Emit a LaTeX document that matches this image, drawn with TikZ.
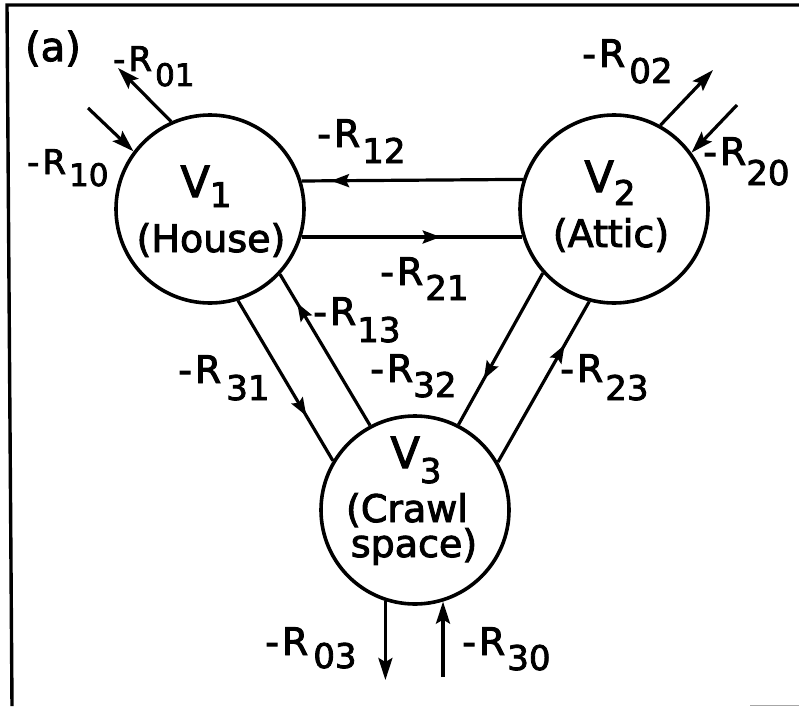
\documentclass[tikz,border=0pt]{standalone}
\usepackage{fontspec}
\setmainfont{DejaVu Sans}[FakeBold=2.5]
\usetikzlibrary{arrows.meta,decorations.markings}
\newcommand\mysubfont{\fontsize{34}{36}\selectfont}
\newcommand\mysmallsubfont{\fontsize{31}{33}\selectfont}
\newcommand\rlab[3]{-\kern3pt R\kern#1pt\raisebox{-#2pt}{\mysubfont #3}}
\newcommand\rlabsmall[3]{-\kern3pt R\kern#1pt\raisebox{-#2pt}{\mysmallsubfont #3}}
\begin{document}
\begin{tikzpicture}[x=1pt,y=-1pt,
  circ/.style={circle, draw, line width=3.6pt, minimum size=188pt, inner sep=0pt},
  conn/.style={line width=3.2pt},
  tip/.style={-{Stealth[length=22pt,width=14pt,inset=4pt]}},
  midarrow/.style={postaction={decorate}, decoration={markings,
      mark=at position #1 with {\arrow{Stealth[length=18pt,width=13pt,inset=3pt]}}}},
  lab/.style={anchor=base west, inner sep=0pt, font=\fontsize{#1}{#1}\selectfont},
  lab/.default=38,
  ctext/.style={anchor=base, inner sep=0pt, font=\fontsize{#1}{#1}\selectfont},
  ctext/.default=38]
\useasboundingbox (0,0) rectangle (799,706);
% frame
\draw[line width=3.4pt] (799,5) -- (7,5) -- (12,706);
\draw[line width=1pt, black!35] (750,705) -- (799,705);
\node[ctext=40] (tag) at (53,61) {(a)};
% volumes
\node[circ] (v1) at (210,209) {};
\node[circ] (v2) at (614,209) {};
\node[circ] (v3) at (415,510) {};
\node[ctext=43] (v1a) at (206,197) {V\raisebox{-10pt}{\mysubfont 1}};
\node[ctext] (v1b) at (211,252) {(House)};
\node[ctext=43] (v2a) at (610,192) {V\raisebox{-13pt}{\mysubfont 2}};
\node[ctext] (v2b) at (611,247) {(Attic)};
\node[ctext=43] (v3a) at (416,468) {V\raisebox{-15pt}{\mysubfont 3}};
\node[ctext] (v3b) at (407,522) {(Crawl};
\node[ctext] (v3c) at (414,557) {space)};
% exchanges between volumes
\draw[conn, midarrow=0.867] (v2.162.7) -- (v1.17.3);
\draw[conn, midarrow=0.63] (v1.-17.3) -- (v2.197.3);
\draw[conn, midarrow=0.72] (v1.-73.8) -- (v3.149.7);
\draw[conn, midarrow=0.81] (v3.118.5) -- (v1.-43.3);
\draw[conn, midarrow=0.70] (v2.222) -- (v3.63.4);
\draw[conn, midarrow=0.73] (v3.30.4) -- (v2.255);
% exchanges with outside
\coordinate (c01) at (118,68);
\coordinate (c10) at (88,108);
\coordinate (c02) at (713,70);
\coordinate (c20) at (737,105);
\coordinate (c03) at (387,680);
\coordinate (c30) at (442,677);
\draw[conn, tip] (v1.114) -- (c01);
\draw[conn, tip] (c10) -- (v1.143.3);
\draw[conn, tip] (v2.61.5) -- (c02);
\draw[conn, tip] (c20) -- (v2.36.4);
\draw[conn, tip] (v3.252.4) -- (v3.252.4 |- c03);
\draw[conn, tip] (c30 -| v3.287) -- (v3.287);
% labels
\node[lab=34] (l01) at (113,71) {\rlabsmall{3}{15}{01}};
\node[lab=34] (l10) at (27,174) {\rlabsmall{3}{12}{10}};
\node[lab] (l12) at (317,147) {\rlab{2}{16}{12}};
\node[lab] (l21) at (380,285) {\rlab{2}{15}{21}};
\node[lab] (l13) at (313,325) {\rlab{1}{17}{13}};
\node[lab] (l31) at (178,383) {\rlab{5}{17}{31}};
\node[lab] (l32) at (370,382) {\rlab{0}{15}{32}};
\node[lab] (l23) at (560,382) {\rlab{2}{18}{23}};
\node[lab] (l02) at (582,67) {\rlab{4}{16}{02}};
\node[lab] (l20) at (703,165) {\rlab{0}{20}{20}};
\node[lab] (l03) at (265,655) {\rlab{5}{13}{03}};
\node[lab] (l30) at (462,655) {\rlab{2}{15}{30}};
\end{tikzpicture}
\end{document}
